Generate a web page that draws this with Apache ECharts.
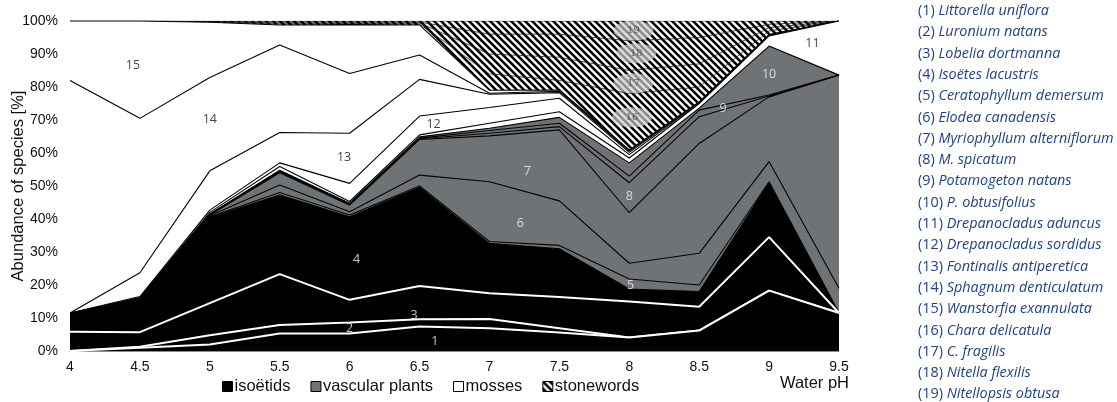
<!DOCTYPE html>
<html>
<head>
<meta charset="utf-8">
<script src="https://cdn.jsdelivr.net/npm/echarts@6/dist/echarts.min.js"></script>
<style>
  html, body { margin: 0; padding: 0; background: #fff; }
  #chart { width: 1117px; height: 402px; }
</style>
</head>
<body>
<div id="chart"></div>
<script>
// water pH classes (x axis)
const phValues = ['4', '4.5', '5', '5.5', '6', '6.5', '7', '7.5', '8', '8.5', '9', '9.5'];

// abundance of each species [%] per pH class
const littorellaUniflora      = [0, 1.0, 2.0, 5.3, 5.3, 7.4, 6.9, 5.6, 4.1, 6.2, 18.3, 11.5];
const luroniumNatans          = [0, 0.3, 2.8, 2.6, 3.3, 2.2, 2.8, 1.3, 0, 0, 0, 0];
const lobeliaDortmanna        = [5.8, 4.4, 9.7, 15.4, 6.9, 10.1, 7.8, 9.5, 10.9, 7.2, 16.2, 0];
const isoetesLacustris        = [5.4, 9.3, 26.0, 24.0, 25.2, 29.9, 15.1, 14.6, 3.8, 4.6, 16.5, 0];
const ceratophyllumDemersum   = [0.05, 0.2, 0.2, 0.7, 0.5, 0.4, 0.6, 1.0, 3.0, 2.0, 0.3, 0];
const elodeaCanadensis        = [0.05, 0.2, 0.3, 2.3, 1.0, 3.3, 18.1, 13.5, 4.8, 9.6, 6.1, 7.5];
const myriophyllumAlterni     = [0.05, 0.2, 0.2, 3.7, 2.0, 10.8, 13.9, 21.5, 15.3, 33.3, 19.6, 64.6];
const myriophyllumSpicatum    = [0.05, 0.2, 0.1, 0.3, 0.2, 0.2, 0.8, 1.0, 9.1, 8.1, 0.3, 0];
const potamogetonNatans       = [0, 0.1, 0.1, 0.2, 0.2, 0.2, 0.8, 1.0, 2.0, 2.0, 0.3, 0];
const potamogetonObtusifolius = [0, 0.1, 0.1, 0.3, 0.2, 0.4, 0.7, 1.8, 4.0, 0.6, 14.8, 0];
const drepanocladusAduncus    = [0, 0.2, 0.5, 1.1, 0.5, 0.6, 1.5, 1.7, 1.5, 1.4, 3.1, 16.4];
const drepanocladusSordidus   = [0.1, 0.3, 0.7, 1.1, 5.5, 5.7, 4.8, 4.1, 1.0, 0.2, 0.2, 0];
const fontinalisAntipyretica  = [0, 7.2, 11.9, 9.2, 15.2, 11.1, 4.0, 1.7, 0.7, 0.1, 0.1, 0];
const sphagnumDenticulatum    = [70.5, 46.8, 28.3, 26.5, 18.1, 7.4, 0.3, 0.4, 0.4, 0.1, 0, 0];
const warnstorfiaExannulata   = [18.0, 29.5, 16.7, 6.1, 14.8, 9.1, 0.9, 0.4, 0.3, 0.1, 0, 0];
const charaDelicatula         = [0, 0, 0.1, 0.3, 0.3, 0.3, 5.0, 2.9, 17.1, 4.5, 1.2, 0];
const charaFragilis           = [0, 0, 0.1, 0.3, 0.2, 0.3, 6.0, 7.0, 7.0, 7.0, 1.0, 0];
const nitellaFlexilis         = [0, 0, 0.1, 0.3, 0.3, 0.3, 6.0, 7.0, 9.0, 8.0, 1.0, 0];
const nitellopsisObtusa       = [0, 0, 0.1, 0.3, 0.3, 0.3, 4.0, 4.0, 6.0, 5.0, 1.0, 0];

const speciesNames = [
  'Littorella uniflora', 'Luronium natans', 'Lobelia dortmanna', 'Isoëtes lacustris',
  'Ceratophyllum demersum', 'Elodea canadensis', 'Myriophyllum alterniflorum', 'M. spicatum',
  'Potamogeton natans', 'P. obtusifolius', 'Drepanocladus aduncus', 'Drepanocladus sordidus',
  'Fontinalis antiperetica', 'Sphagnum denticulatum', 'Wanstorfia exannulata',
  'Chara delicatula', 'C. fragilis', 'Nitella flexilis', 'Nitellopsis obtusa'
];
const groupNames = ['isoëtids', 'vascular plants', 'mosses', 'stonewords'];
const speciesGroup = [0, 0, 0, 0, 1, 1, 1, 1, 1, 1, 2, 2, 2, 2, 2, 3, 3, 3, 3];

const abundance = [
  littorellaUniflora, luroniumNatans, lobeliaDortmanna, isoetesLacustris,
  ceratophyllumDemersum, elodeaCanadensis, myriophyllumAlterni, myriophyllumSpicatum,
  potamogetonNatans, potamogetonObtusifolius, drepanocladusAduncus, drepanocladusSordidus,
  fontinalisAntipyretica, sphagnumDenticulatum, warnstorfiaExannulata,
  charaDelicatula, charaFragilis, nitellaFlexilis, nitellopsisObtusa
];

// diagonal hatch for the stoneworts
function makeHatch() {
  const s = 7;
  const c = document.createElement('canvas');
  c.width = s; c.height = s;
  const g = c.getContext('2d');
  g.fillStyle = '#fff';
  g.fillRect(0, 0, s, s);
  g.strokeStyle = '#000';
  g.lineWidth = 2.6;
  g.beginPath();
  for (let k = -1; k <= 1; k++) {
    g.moveTo(k * s - 2, -2);
    g.lineTo(k * s + s + 2, s + 2);
  }
  g.stroke();
  return c;
}
const hatch = { image: makeHatch(), repeat: 'repeat' };
const grey = '#707375';
const groupFill = ['#000', grey, '#fff', hatch];

let chart = echarts.init(document.getElementById('chart'), null, { renderer: 'canvas' });

// area series, stacked
let areaSeries = abundance.map((vals, i) => {
  const grp = speciesGroup[i];
  return {
    name: speciesNames[i],
    type: 'line',
    stack: 'total',
    symbol: 'none',
    silent: true,
    z: 40 - i,
    data: vals,
    lineStyle: { color: i < 3 ? '#fff' : '#000', width: i < 3 ? 2 : (grp === 3 ? 0.7 : 1.1) },
    areaStyle: { color: groupFill[grp], opacity: 1 }
  };
});

// legend-only series
let legendStyles = [
  { color: '#000', borderColor: '#000', borderWidth: 1 },
  { color: grey, borderColor: '#000', borderWidth: 1 },
  { color: '#fff', borderColor: '#000', borderWidth: 1 },
  { color: hatch, borderColor: '#000', borderWidth: 1 }
];
let legendSeries = groupNames.map((g, k) => ({
  name: g, type: 'bar', data: [], itemStyle: legendStyles[k]
}));

// species numbers written in the areas (pH, %)
const numberLabels = [
  [6.61, 2.9, '1'], [6.0, 6.9, '2'], [6.46, 10.9, '3'], [6.05, 27.6, '4'],
  [8.01, 20.0, '5'], [7.22, 38.7, '6'], [7.27, 54.4, '7'], [8.0, 46.8, '8'],
  [8.67, 73.6, '9'], [9.0, 83.9, '10'], [9.31, 93.2, '11'], [6.6, 68.8, '12'],
  [5.96, 58.7, '13'], [5.0, 70.2, '14'], [4.45, 86.4, '15']
];
const ovalLabels = [
  [8.02, 70.8, '16'], [8.03, 81.1, '17'], [8.05, 90.2, '18'], [8.03, 97.1, '19']
];

let labelSeries = {
  type: 'scatter', silent: true, z: 60, symbolSize: 1, xAxisIndex: 1,
  itemStyle: { color: 'rgba(0,0,0,0)' },
  data: numberLabels.map(d => {
    const n = +d[2];
    return {
      value: [d[0], d[1]],
      label: {
        show: true, position: 'inside', formatter: d[2],
        fontFamily: 'Open Sans', fontSize: 12.5,
        color: n <= 10 ? '#f2f2f2' : '#111'
      }
    };
  })
};
let ovalSeries = {
  type: 'scatter', silent: true, z: 61, xAxisIndex: 1,
  symbol: 'path://M0 50 A50 50 0 1 1 100 50 A50 50 0 1 1 0 50 Z',
  symbolSize: [40, 20],
  itemStyle: { color: 'rgba(205,205,205,0.86)' },
  data: ovalLabels.map(d => ({
    value: [d[0], d[1]],
    label: { show: true, position: 'inside', formatter: d[2], fontFamily: 'DejaVu Serif', fontSize: 10, color: '#444' }
  }))
};

// species list on the right
let listItems = speciesNames.map((nm, i) => ({
  type: 'text',
  left: 918,
  top: 10 + 21.3 * i - 6,
  silent: true,
  style: {
    text: '{a|(' + (i + 1) + ') }{b|' + nm + '}',
    rich: {
      a: { fontFamily: 'Open Sans', fontSize: 14.4, fill: '#1e4282' },
      b: { fontFamily: 'Open Sans', fontStyle: 'italic', fontSize: 14.4, fill: '#1e4282' }
    }
  }
}));

const axisFont = { fontFamily: 'Liberation Sans', fontSize: 14, color: '#111' };
const nameFont = { fontFamily: 'Liberation Sans', fontSize: 16.5, color: '#111' };

let option = {
  animation: false,
  grid: { left: 70, right: 278, top: 21, bottom: 51, containLabel: false, outerBoundsMode: 'none' },
  xAxis: [{
    type: 'category', data: phValues, boundaryGap: false,
    axisLine: { show: true, lineStyle: { color: '#8c8c8c', width: 1 } },
    axisTick: { show: false },
    splitLine: { show: false },
    axisLabel: Object.assign({ margin: 9 }, axisFont),
    name: 'Water pH', nameLocation: 'end', nameGap: 10, nameMoveOverlap: false,
    nameTextStyle: Object.assign({ align: 'right', verticalAlign: 'top', padding: [24, 0, 0, 0] }, nameFont)
  }, {
    // hidden pH scale used to place the area labels
    type: 'value', min: 4, max: 9.5, show: false
  }],
  yAxis: {
    type: 'value', min: 0, max: 100, interval: 10,
    axisLine: { show: true, lineStyle: { color: '#8c8c8c', width: 1 } },
    axisTick: { show: false },
    splitLine: { show: false },
    axisLabel: Object.assign({ margin: 12, formatter: '{value}%' }, axisFont),
    name: 'Abundance of species [%]', nameLocation: 'middle', nameGap: 43, nameMoveOverlap: false,
    nameTextStyle: nameFont
  },
  legend: {
    data: groupNames.map((g, k) => ({ name: g, icon: 'rect', itemStyle: legendStyles[k] })),
    left: 217, top: 373,
    itemWidth: 10, itemHeight: 10, itemGap: 20,
    selectedMode: false,
    textStyle: { fontFamily: 'Liberation Sans', fontSize: 16.5, color: '#111', padding: [0, 0, 0, -3] }
  },
  graphic: listItems,
  series: areaSeries.concat(legendSeries, [labelSeries, ovalSeries])
};

chart.setOption(option);
</script>
</body>
</html>
